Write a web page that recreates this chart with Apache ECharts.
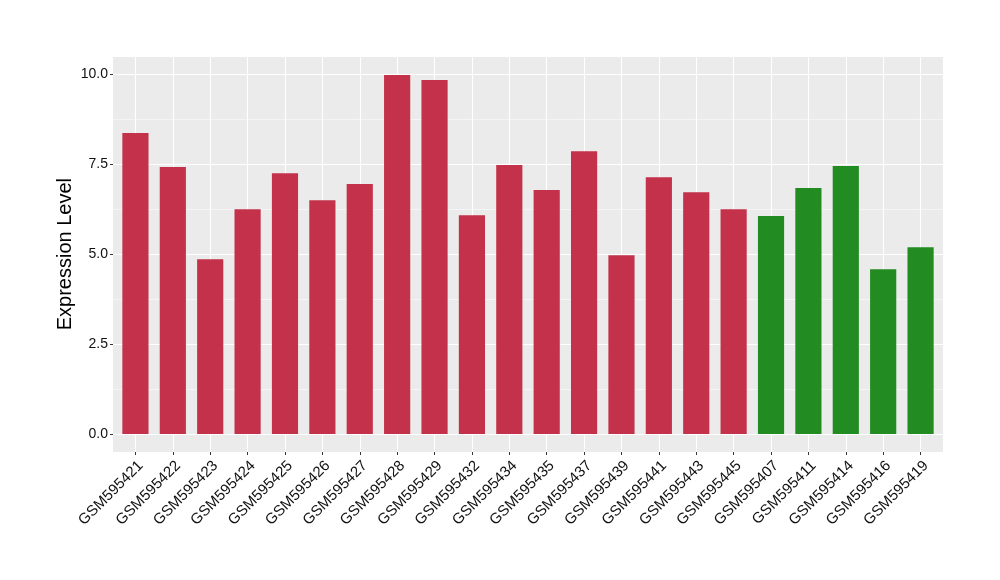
<!DOCTYPE html>
<html><head><meta charset="utf-8">
<script src="https://cdn.jsdelivr.net/npm/echarts@6/dist/echarts.min.js"></script>
<style>html,body{margin:0;padding:0;background:#fff}#c{width:1000px;height:580px}</style>
</head><body><div id="c"></div>
<script>
const categories = ["GSM595421","GSM595422","GSM595423","GSM595424","GSM595425","GSM595426","GSM595427","GSM595428","GSM595429","GSM595432","GSM595434","GSM595435","GSM595437","GSM595439","GSM595441","GSM595443","GSM595445","GSM595407","GSM595411","GSM595414","GSM595416","GSM595419"];
const values = [8.37,7.42,4.86,6.25,7.25,6.50,6.95,9.98,9.84,6.08,7.48,6.78,7.86,4.97,7.14,6.72,6.25,6.06,6.84,7.45,4.58,5.19];
const groups = ["a","a","a","a","a","a","a","a","a","a","a","a","a","a","a","a","a","b","b","b","b","b"];
const groupColors = {a:"#C3314A", b:"#228B22"};
const yTicks = [0, 2.5, 5, 7.5, 10];

const FONT = "Liberation Sans, Arial, sans-serif";
const panel = {left:113, right:57, top:57, bottom:128};
const n = categories.length;
const band = (1000 - panel.left - panel.right) / (n - 1 + 1.2);
const yUnit = (580 - panel.top - panel.bottom) / (10.48 + 0.499);

const chart = echarts.init(document.getElementById('c'), null, {renderer:'canvas'});
chart.setOption({
  animation:false,
  backgroundColor:'#fff',
  grid:[
    {left:panel.left, right:panel.right, top:panel.top, bottom:panel.bottom, show:true, backgroundColor:'#EBEBEB', borderWidth:0},
    {left:panel.left, right:panel.right, top:panel.top + (10.48-10)*yUnit, bottom:panel.bottom + 0.499*yUnit},
    {left:panel.left + 0.6*band, right:panel.right + 0.6*band, top:panel.top, bottom:panel.bottom},
    {left:panel.left + 0.1*band, right:panel.right + 0.1*band, top:panel.top, bottom:panel.bottom}
  ],
  xAxis:[
    {gridIndex:0, type:'value', show:false},
    {gridIndex:1, type:'value', show:false},
    {gridIndex:2, type:'category', data:categories, boundaryGap:false,
      axisLine:{show:false},
      axisTick:{show:true, length:3, lineStyle:{color:'#333', width:1}},
      splitLine:{show:true, lineStyle:{color:'#fff', width:1.1}},
      axisLabel:{interval:0, rotate:45, margin:6, verticalAlign:'top', fontFamily:FONT, fontSize:15, color:'#111'}},
    {gridIndex:3, type:'category', data:categories, boundaryGap:true, show:false}
  ],
  yAxis:[
    {gridIndex:0, type:'value', show:false},
    {gridIndex:1, type:'value', min:0, max:10, interval:2.5,
      name:'Expression Level', nameLocation:'middle', nameGap:38, nameMoveOverlap:false,
      nameTextStyle:{fontFamily:FONT, fontSize:20, color:'#000'},
      axisLine:{show:false},
      axisTick:{show:true, length:3, lineStyle:{color:'#333', width:1}},
      axisLabel:{margin:5, fontFamily:FONT, fontSize:14, color:'#111', formatter:v=>v.toFixed(1)},
      splitLine:{show:true, lineStyle:{color:'#fff', width:1.1}},
      minorTick:{show:false, splitNumber:2},
      minorSplitLine:{show:true, lineStyle:{color:'#F5F5F5', width:1}}},
    {gridIndex:2, type:'value', show:false},
    {gridIndex:3, type:'value', min:-0.499, max:10.48, show:false, splitLine:{show:false}}
  ],
  series:[{
    type:'bar', xAxisIndex:3, yAxisIndex:3, barWidth:'70%',
    data: values.map((v,i)=>({value:v, itemStyle:{color:groupColors[groups[i]]}}))
  }]
});
</script></body></html>
